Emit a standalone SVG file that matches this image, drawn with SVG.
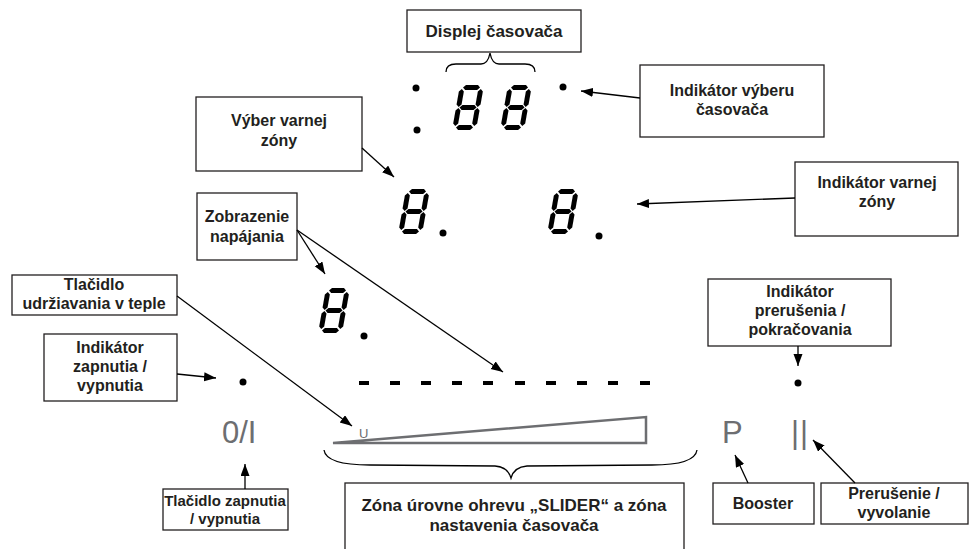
<svg xmlns="http://www.w3.org/2000/svg" width="969" height="549" viewBox="0 0 969 549">
<style>
.box{fill:#fff;stroke:#231f20;stroke-width:1.3}
.lbl{font-family:"Liberation Sans",Arial,sans-serif;font-weight:bold;font-size:16px;fill:#231f20;text-anchor:middle}
.con{stroke:#000;stroke-width:1.3;fill:none;marker-end:url(#ah)}
.sym{font-family:"Liberation Sans",Arial,sans-serif;fill:#6d6e71;font-size:31px}
.dot{fill:#000}
.brace{fill:none;stroke:#000;stroke-width:1.3}
</style>
<defs>
<marker id="ah" markerUnits="userSpaceOnUse" markerWidth="13" markerHeight="10" refX="12" refY="4.5" orient="auto">
<path d="M0,0 L12,4.5 L0,9 Z" fill="#000"/>
</marker>
<g id="d8" fill="#000">
<path d="M3.5,2.5 L6,0 L18,0 L20.5,2.5 L18,5 L6,5 Z"/>
<path d="M3.5,22.5 L6,20 L18,20 L20.5,22.5 L18,25 L6,25 Z"/>
<path d="M3.5,42.5 L6,40 L18,40 L20.5,42.5 L18,45 L6,45 Z"/>
<path d="M2.5,4 L5,6.5 L5,19.5 L2.5,22 L0,19.5 L0,6.5 Z"/>
<path d="M2.5,23 L5,25.5 L5,38.5 L2.5,41 L0,38.5 L0,25.5 Z"/>
<path d="M21.5,4 L24,6.5 L24,19.5 L21.5,22 L19,19.5 L19,6.5 Z"/>
<path d="M21.5,23 L24,25.5 L24,38.5 L21.5,41 L19,38.5 L19,25.5 Z"/>
</g>
</defs>
<rect width="969" height="549" fill="#fff"/>

<g id="display-timer">
<use href="#d8" transform="translate(460,85) skewX(-10)"/>
<use href="#d8" transform="translate(508,85) skewX(-10)"/>
<circle class="dot" cx="416" cy="88" r="3.5"/>
<circle class="dot" cx="417" cy="130" r="3.5"/>
<circle class="dot" cx="563" cy="87" r="3.5"/>
</g>
<g id="display-zones">
<use href="#d8" transform="translate(406,189) skewX(-10)"/>
<circle class="dot" cx="443" cy="233" r="3.5"/>
<use href="#d8" transform="translate(555,189) skewX(-10)"/>
<circle class="dot" cx="599" cy="236" r="3.5"/>
<use href="#d8" transform="translate(326,288) skewX(-10)"/>
<circle class="dot" cx="364" cy="336" r="3.5"/>
</g>
<g id="controls">
<g fill="#000">
<rect x="359" y="381" width="10" height="4"/>
<rect x="390" y="381" width="10" height="4"/>
<rect x="421" y="381" width="10" height="4"/>
<rect x="452" y="381" width="10" height="4"/>
<rect x="483" y="381" width="10" height="4"/>
<rect x="515" y="381" width="10" height="4"/>
<rect x="546" y="381" width="10" height="4"/>
<rect x="577" y="381" width="10" height="4"/>
<rect x="608" y="381" width="10" height="4"/>
<rect x="640" y="381" width="10" height="4"/>
</g>
<polygon points="333,443 646,417 646,443" fill="none" stroke="#6d6e71" stroke-width="2.5"/>
<text x="359" y="438" style="font-family:'Liberation Sans',Arial,sans-serif;font-size:13px;fill:#6d6e71">U</text>
<circle class="dot" cx="243" cy="382" r="3.5"/>
<text class="sym" x="222" y="443">0/I</text>
<text class="sym" x="722" y="443">P</text>
<text class="sym" x="791" y="443" letter-spacing="1">||</text>
<circle class="dot" cx="798" cy="383" r="3.5"/>
</g>

<g id="n-displej">
<rect class="box" x="407" y="10" width="174" height="42"/>
<text class="lbl" x="494" y="37" style="font-size:17px">Displej časovača</text>
<path class="brace" d="M446,72 Q446,64 456,64 L481,64 Q488,64 490,53 Q492,64 499,64 L525,64 Q535,64 535,72"/>
</g>
<g id="n-vyber-casovaca">
<rect class="box" x="640" y="65" width="184" height="72"/>
<text class="lbl" x="732" y="96">Indikátor výberu</text>
<text class="lbl" x="732" y="115">časovača</text>
</g>
<g id="n-vyber-zony">
<rect class="box" x="196" y="97" width="166" height="74"/>
<text class="lbl" x="279" y="126">Výber varnej</text>
<text class="lbl" x="279" y="146">zóny</text>
</g>
<g id="n-indikator-zony">
<rect class="box" x="795" y="162" width="163" height="74"/>
<text class="lbl" x="877" y="188">Indikátor varnej</text>
<text class="lbl" x="877" y="207">zóny</text>
</g>
<g id="n-zobrazenie">
<rect class="box" x="197" y="193" width="100" height="67"/>
<text class="lbl" x="247" y="222">Zobrazenie</text>
<text class="lbl" x="247" y="242">napájania</text>
</g>
<g id="n-udrziavanie">
<rect class="box" x="12" y="275" width="165" height="40"/>
<text class="lbl" x="94" y="290">Tlačidlo</text>
<text class="lbl" x="94" y="309">udržiavania v teple</text>
</g>
<g id="n-indikator-zapnutia">
<rect class="box" x="44" y="334" width="133" height="67"/>
<text class="lbl" x="110" y="353">Indikátor</text>
<text class="lbl" x="110" y="372">zapnutia /</text>
<text class="lbl" x="110" y="391">vypnutia</text>
</g>
<g id="n-tlacidlo-zapnutia">
<rect class="box" x="163" y="489" width="125" height="41"/>
<text class="lbl" x="225" y="506" style="font-size:15px">Tlačidlo zapnutia</text>
<text class="lbl" x="225" y="524" style="font-size:15px">/ vypnutia</text>
</g>
<g id="n-slider">
<path class="brace" d="M324,450 Q326,465 370,465 L495,466 Q508,467 511,478 Q514,467 527,466 L652,465 Q695,465 697,450"/>
<rect class="box" x="345" y="483" width="339" height="72"/>
<text class="lbl" x="514" y="511" style="font-size:17px">Zóna úrovne ohrevu „SLIDER“ a zóna</text>
<text class="lbl" x="514" y="531" style="font-size:17px">nastavenia časovača</text>
</g>
<g id="n-indikator-prerusenia">
<rect class="box" x="708" y="279" width="183" height="67"/>
<text class="lbl" x="800" y="297">Indikátor</text>
<text class="lbl" x="800" y="316">prerušenia /</text>
<text class="lbl" x="800" y="335">pokračovania</text>
</g>
<g id="n-booster">
<rect class="box" x="713" y="483" width="101" height="41"/>
<text class="lbl" x="763" y="509">Booster</text>
</g>
<g id="n-prerusenie">
<rect class="box" x="821" y="483" width="147" height="41"/>
<text class="lbl" x="894" y="499">Prerušenie /</text>
<text class="lbl" x="894" y="518">vyvolanie</text>
</g>

<g id="connectors">
<line class="con" x1="640" y1="98" x2="581" y2="91"/>
<line class="con" x1="362" y1="148" x2="394" y2="177"/>
<line class="con" x1="297" y1="230" x2="325" y2="274"/>
<line class="con" x1="297" y1="230" x2="503" y2="372"/>
<line class="con" x1="795" y1="198" x2="637" y2="204"/>
<line class="con" x1="177" y1="296" x2="352" y2="426"/>
<line class="con" x1="177" y1="374" x2="216" y2="378"/>
<line class="con" x1="245" y1="489" x2="245" y2="464"/>
<line class="con" x1="798" y1="346" x2="798" y2="366"/>
<line class="con" x1="748" y1="483" x2="735" y2="455"/>
<line class="con" x1="855" y1="483" x2="813" y2="440"/>
</g>
</svg>
